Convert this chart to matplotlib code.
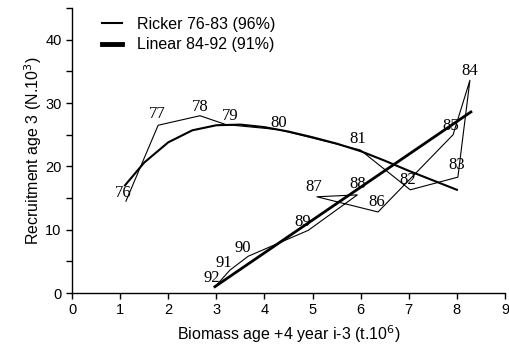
import matplotlib
matplotlib.use("Agg")
import matplotlib.pyplot as plt
from matplotlib.lines import Line2D

# Observed stock-recruitment pairs, labelled by year class
years = ["76", "77", "78", "79", "80", "81", "82", "83", "84",
         "85", "86", "87", "88", "89", "90", "91", "92"]
biomass = [1.12, 1.79, 2.66, 3.20, 4.30, 5.99, 7.03, 8.02, 8.27,
           7.92, 6.36, 5.09, 5.93, 4.91, 3.66, 3.28, 3.01]
recruits = [14.5, 26.5, 28.0, 26.6, 25.8, 22.6, 16.3, 18.3, 33.6,
            25.0, 12.8, 15.2, 15.5, 9.9, 5.8, 3.6, 1.3]

# Ricker curve fitted to 1976-1983
ricker_x = [1.1, 1.5, 2.0, 2.5, 3.0, 3.5, 4.0, 4.5, 5.0, 5.5,
            6.0, 6.5, 7.0, 7.5, 8.0]
ricker_y = [17.0, 20.6, 23.8, 25.7, 26.5, 26.6, 26.2, 25.5, 24.6, 23.6,
            22.4, 20.9, 19.3, 17.8, 16.3]

# Linear fit to 1984-1992
linear_x = [2.97, 8.29]
linear_y = [1.0, 28.6]

legend_labels = ["Ricker 76-83 (96%)", "Linear 84-92 (91%)"]
x_label = "Biomass age +4 year i-3 (t.10$^6$)"
y_label = "Recruitment age 3 (N.10$^3$)"

# label offsets (points) from each year's point
label_dx = [-2, -1, 0, 3, 0, -2, -2, -1, 0, -2, -1, -2, 0, -4, -4, -4, -4]
label_dy = [6, 8, 6, 6, 5, 8, 7, 9, 7, 6, 7, 7, 8, 6, 6, 5, 5]

fig = plt.figure(figsize=(5.09, 3.47), dpi=100)
ax = fig.add_axes([0.1415, 0.1556, 0.8507, 0.821])

ax.plot(biomass, recruits, color="black", lw=0.8, zorder=2)
ax.plot(ricker_x, ricker_y, color="black", lw=1.5, zorder=3)
ax.plot(linear_x, linear_y, color="black", lw=2.0, zorder=3)

for yr, bx, ry, dx, dy in zip(years, biomass, recruits, label_dx, label_dy):
    ax.annotate(yr, (bx, ry), xytext=(dx, dy), textcoords="offset points",
                ha="center", va="center", fontsize=12,
                family="Liberation Serif", zorder=4)

ax.set_xlim(0, 9)
ax.set_ylim(0, 45)
ax.set_xticks(range(0, 10))
ax.set_yticks([0, 10, 20, 30, 40])
ax.set_yticks([5, 15, 25, 35, 45], minor=True)
for s in ("top", "right"):
    ax.spines[s].set_visible(False)
for s in ("left", "bottom"):
    ax.spines[s].set_linewidth(1.0)
ax.tick_params(axis="both", which="major", direction="out", length=4,
               width=1.0, labelsize=10.5)
ax.tick_params(axis="y", which="minor", direction="out", length=4, width=1.0)
for lbl in ax.get_xticklabels() + ax.get_yticklabels():
    lbl.set_family("Liberation Sans")

ax.set_xlabel(x_label, family="Liberation Sans", fontsize=11.5, labelpad=4)
ax.set_ylabel(y_label, family="Liberation Sans", fontsize=11.5, labelpad=1)

handles = [Line2D([], [], color="black", lw=1.5),
           Line2D([], [], color="black", lw=3.5)]
ax.legend(handles, legend_labels, loc="upper left",
          bbox_to_anchor=(0.035, 1.02), frameon=False, handlelength=1.3,
          handletextpad=0.9, labelspacing=0.35,
          prop={"family": "Liberation Sans", "size": 11.5})

fig.savefig("out.png", dpi=100)
